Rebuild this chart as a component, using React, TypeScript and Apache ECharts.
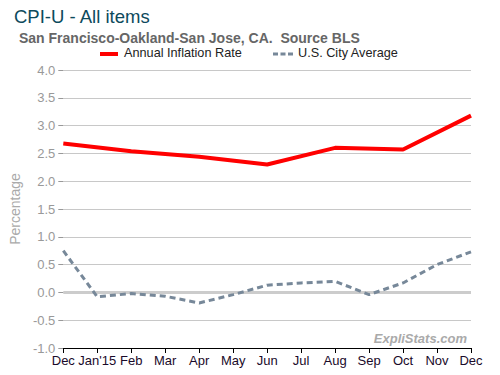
import React, { useEffect, useRef } from "react";
import * as echarts from "echarts";

const months = ["Dec", "Jan'15", "Feb", "Mar", "Apr", "May", "Jun", "Jul", "Aug", "Sep", "Oct", "Nov", "Dec"];
const annualInflationSF = [2.68, null, 2.54, null, 2.44, null, 2.30, null, 2.60, null, 2.57, null, 3.18];
const usCityAverage = [0.75, -0.08, -0.02, -0.07, -0.19, -0.04, 0.13, 0.17, 0.2, -0.04, 0.17, 0.5, 0.73];
const seriesNames = ["Annual Inflation Rate", "U.S. City Average"];
const yMin = -1;
const yMax = 4;
const yInterval = 0.5;

export default function App() {
  const ref = useRef<HTMLDivElement>(null);
  useEffect(() => {
    if (!ref.current) return;
    const chart = echarts.init(ref.current, null, { renderer: "svg" });
    const font = "Arial, 'Liberation Sans', sans-serif";
    chart.setOption({
      animation: false,
      backgroundColor: "#ffffff",
      textStyle: { fontFamily: font },
      title: [
        {
          text: "CPI-U - All items",
          left: 9,
          top: 2,
          textStyle: { color: "#0d4a5c", fontSize: 18.5, fontWeight: "normal", fontFamily: font },
        },
        {
          text: "San Francisco-Oakland-San Jose, CA.  Source BLS",
          left: 14,
          top: 26,
          textStyle: { color: "#666666", fontSize: 14, fontWeight: "bold", fontFamily: font },
        },
      ],
      grid: { left: 60, right: 29, top: 70, bottom: 27, containLabel: false },
      xAxis: {
        type: "category",
        data: months,
        boundaryGap: false,
        axisLine: { show: true, onZero: false, lineStyle: { color: "#000", width: 1 } },
        axisTick: { show: true, alignWithLabel: true, length: 5, lineStyle: { color: "#000" } },
        axisLabel: { color: "#1a0a2a", fontSize: 13, margin: 6, interval: 0, fontFamily: font },
        splitLine: { show: false },
      },
      yAxis: {
        type: "value",
        min: yMin,
        max: yMax,
        interval: yInterval,
        name: "Percentage",
        nameLocation: "middle",
        nameGap: 40,
        nameTextStyle: { color: "#aaaaaa", fontSize: 14, fontFamily: font },
        axisLine: { show: false },
        axisTick: { show: true, length: 5, lineStyle: { color: "#999" } },
        axisLabel: {
          color: "#999999",
          fontSize: 13,
          margin: 8,
          fontFamily: font,
          formatter: (v: number) => v.toFixed(1),
        },
        splitLine: { show: true, lineStyle: { color: "#c8c8c8", width: 1 } },
      },
      series: [
        {
          name: seriesNames[1],
          type: "line",
          data: usCityAverage,
          symbol: "none",
          z: 3,
          lineStyle: { color: "#778899", width: 3, type: [6, 4] },
          itemStyle: { color: "#778899" },
          markLine: {
            silent: true,
            symbol: "none",
            label: { show: false },
            lineStyle: { color: "#cccccc", width: 3, type: "solid" },
            data: [{ yAxis: 0 }],
            z: 1,
          },
        },
        {
          name: seriesNames[0],
          type: "line",
          data: annualInflationSF,
          connectNulls: true,
          symbol: "none",
          z: 4,
          lineStyle: { color: "#ff0000", width: 4 },
          itemStyle: { color: "#ff0000" },
        },
      ],
      graphic: [
        {
          type: "line",
          shape: { x1: 100, y1: 54, x2: 118, y2: 54 },
          style: { stroke: "#ff0000", lineWidth: 4 },
        },
        {
          type: "text",
          left: 124,
          top: 46,
          style: { text: seriesNames[0], fill: "#222", fontSize: 12.7, fontFamily: font },
        },
        {
          type: "line",
          shape: { x1: 273, y1: 54, x2: 293, y2: 54 },
          style: { stroke: "#778899", lineWidth: 3, lineDash: [5, 2.5] },
        },
        {
          type: "text",
          left: 298,
          top: 46,
          style: { text: seriesNames[1], fill: "#222", fontSize: 12.7, fontFamily: font },
        },
        {
          type: "text",
          right: 33,
          top: 332,
          style: {
            text: "ExpliStats.com",
            fill: "#aaaaaa",
            fontSize: 13,
            fontWeight: "bold",
            fontStyle: "italic",
            fontFamily: font,
          },
        },
      ],
    });
    return () => chart.dispose();
  }, []);
  return <div ref={ref} style={{ width: 500, height: 375, position: "absolute", left: 0, top: 0 }} />;
}
